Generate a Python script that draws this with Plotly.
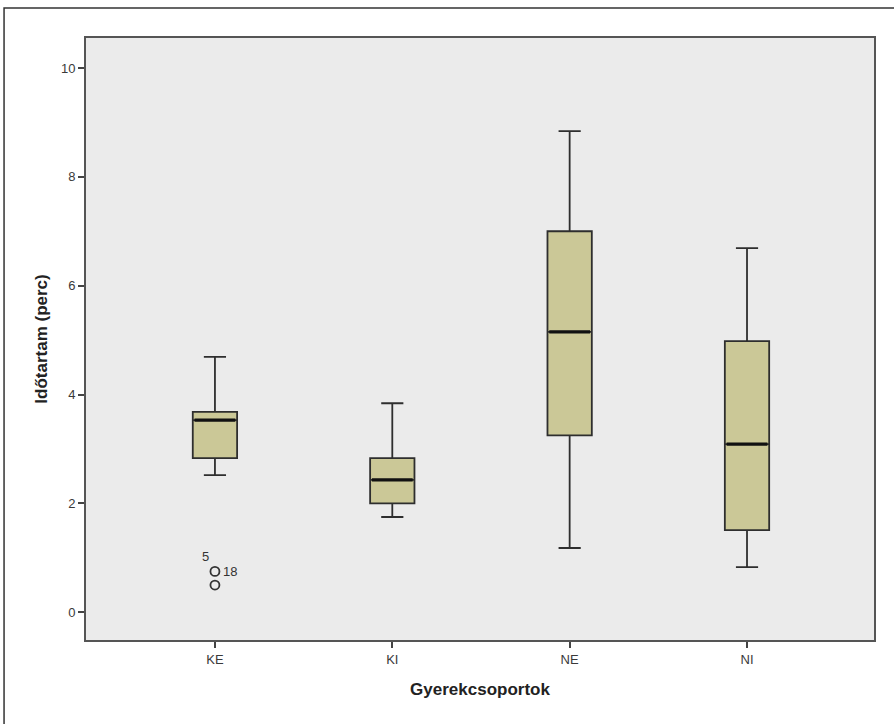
import plotly.graph_objects as go

categories = ["KE", "KI", "NE", "NI"]
q1 = [2.83, 2.00, 3.25, 1.51]
median = [3.53, 2.43, 5.15, 3.09]
q3 = [3.68, 2.83, 7.00, 4.98]
lower_whisker = [2.52, 1.75, 1.18, 0.83]
upper_whisker = [4.69, 3.84, 8.84, 6.69]

outlier_group = ["KE", "KE"]
outlier_values = [0.75, 0.50]
outlier_labels = ["18", ""]
extra_label = "5"

y_ticks = [0, 2, 4, 6, 8, 10]

BOX_W = 0.25
fig = go.Figure()
fig.add_trace(go.Box(
    x=categories, q1=q1, median=median, q3=q3,
    lowerfence=lower_whisker, upperfence=upper_whisker,
    width=BOX_W, whiskerwidth=0.5,
    fillcolor="#CBC897", line=dict(color="#2e2e2e", width=1.8),
    boxpoints=False, showlegend=False, hoverinfo="skip",
))
fig.add_trace(go.Scatter(
    x=outlier_group, y=outlier_values, mode="markers",
    marker=dict(symbol="circle-open", size=9, color="#333333", line=dict(width=1.8)),
    showlegend=False, hoverinfo="skip",
))

shapes = []
for i, m in enumerate(median):
    shapes.append(dict(type="line", xref="x", yref="y",
                       x0=i - BOX_W / 2 + 0.01, x1=i + BOX_W / 2 - 0.01, y0=m, y1=m,
                       line=dict(color="#111111", width=3.2)))
# outer frame
shapes.append(dict(type="rect", xref="paper", yref="paper",
                   x0=-0.104, x1=1.04, y0=-0.2, y1=1.0498,
                   line=dict(color="#333333", width=1.5), layer="below"))

annotations = []
for c, v, t in zip(outlier_group, outlier_values, outlier_labels):
    if t:
        annotations.append(dict(x=c, y=v, xref="x", yref="y", text=t, showarrow=False,
                                xanchor="left", xshift=6, yshift=0,
                                font=dict(family="Liberation Sans", size=13, color="#333333")))
annotations.append(dict(x=outlier_group[0], y=outlier_values[0], xref="x", yref="y",
                        text=extra_label, showarrow=False, xshift=-9, yshift=15,
                        font=dict(family="Liberation Sans", size=13, color="#333333")))

fig.update_layout(
    width=894, height=724,
    margin=dict(l=86, r=20, t=38, b=84),
    paper_bgcolor="white", plot_bgcolor="#EBEBEB",
    shapes=shapes, annotations=annotations,
    font=dict(family="Liberation Sans", color="#333333"),
)
fig.update_xaxes(
    range=[-0.727, 3.716], showgrid=False, zeroline=False,
    showline=True, mirror=True, linecolor="#555555", linewidth=2,
    ticks="outside", ticklen=6, tickcolor="#444444", tickwidth=1.5,
    tickfont=dict(size=13, color="#3a3a3a"),
    title=dict(text="<b>Gyerekcsoportok</b>", font=dict(size=17, color="#222222"), standoff=18),
)
fig.update_yaxes(
    range=[-0.51, 10.55], tickvals=y_ticks, showgrid=False, zeroline=False,
    showline=True, mirror=True, linecolor="#555555", linewidth=2,
    ticks="outside", ticklen=6, tickcolor="#444444", tickwidth=1.5,
    tickfont=dict(size=13, color="#3a3a3a"),
    title=dict(text="<b>Időtartam (perc)</b>", font=dict(size=17, color="#222222"), standoff=9),
)

fig.write_html("out.html", config={"displayModeBar": False},
               post_script="document.body.style.margin='0';")
